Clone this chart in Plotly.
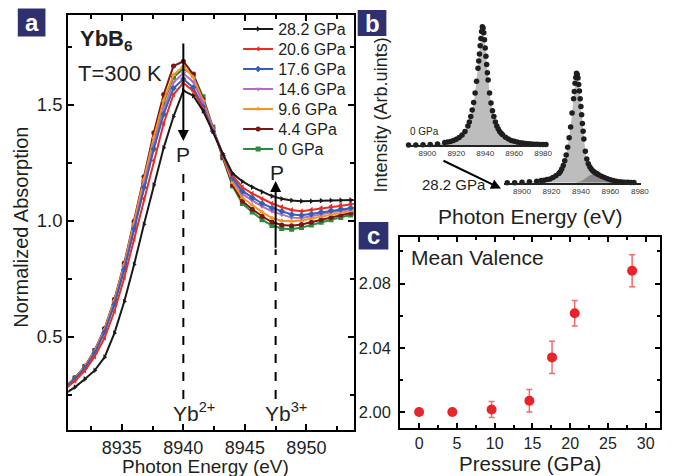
import plotly.graph_objects as go

W, H = 674, 476
FONT = "Liberation Sans, Arial, sans-serif"

# ---------------- Panel a data ----------------
energy = [8930.4, 8931.2, 8932.0, 8932.8, 8933.6, 8934.4, 8935.2, 8936.0, 8936.8, 8937.6,
          8938.4, 8939.2, 8940.0, 8940.8, 8941.6, 8942.4, 8943.2, 8944.0, 8944.8, 8945.6,
          8946.4, 8947.2, 8948.0, 8948.8, 8949.6, 8950.4, 8951.2, 8952.0, 8952.8, 8953.6, 8954.4]
abs_28_2 = [0.255, 0.283, 0.318, 0.355, 0.412, 0.516, 0.652, 0.812, 0.985, 1.155, 1.315, 1.450, 1.562,
            1.540, 1.475, 1.385, 1.290, 1.205, 1.170, 1.146, 1.125, 1.107, 1.095, 1.088, 1.085, 1.085,
            1.087, 1.088, 1.089, 1.090, 1.091]
abs_20_6 = [0.275, 0.310, 0.354, 0.415, 0.495, 0.610, 0.755, 0.920, 1.095, 1.260, 1.420, 1.545, 1.595,
            1.560, 1.485, 1.385, 1.285, 1.195, 1.145, 1.118, 1.095, 1.075, 1.060, 1.047, 1.042, 1.048,
            1.056, 1.063, 1.069, 1.074, 1.077]
abs_17_6 = [0.280, 0.318, 0.365, 0.430, 0.520, 0.640, 0.790, 0.965, 1.145, 1.310, 1.460, 1.572, 1.612,
            1.575, 1.492, 1.388, 1.282, 1.185, 1.128, 1.100, 1.075, 1.056, 1.041, 1.028, 1.024, 1.030,
            1.038, 1.045, 1.051, 1.057, 1.061]
abs_14_6 = [0.282, 0.320, 0.368, 0.435, 0.525, 0.648, 0.800, 0.975, 1.160, 1.330, 1.480, 1.598, 1.636,
            1.600, 1.510, 1.398, 1.285, 1.178, 1.115, 1.088, 1.062, 1.041, 1.026, 1.014, 1.012, 1.019,
            1.028, 1.037, 1.045, 1.052, 1.057]
abs_9_6 = [0.283, 0.322, 0.372, 0.440, 0.532, 0.658, 0.812, 0.990, 1.180, 1.360, 1.520, 1.630, 1.666,
           1.620, 1.520, 1.400, 1.280, 1.165, 1.100, 1.068, 1.038, 1.012, 1.001, 0.998, 1.002, 1.010,
           1.019, 1.028, 1.036, 1.043, 1.048]
abs_4_4 = [0.284, 0.323, 0.373, 0.442, 0.536, 0.662, 0.818, 0.998, 1.190, 1.380, 1.545, 1.668, 1.688,
           1.632, 1.525, 1.400, 1.275, 1.155, 1.085, 1.050, 1.020, 0.995, 0.982, 0.979, 0.984, 0.994,
           1.005, 1.015, 1.025, 1.034, 1.040]
abs_0 = [0.284, 0.322, 0.372, 0.440, 0.532, 0.656, 0.810, 0.985, 1.170, 1.350, 1.510, 1.620, 1.656,
         1.632, 1.535, 1.405, 1.272, 1.150, 1.075, 1.038, 1.005, 0.980, 0.967, 0.964, 0.971, 0.982,
         0.994, 1.005, 1.015, 1.025, 1.032]

series_names = ["28.2 GPa", "20.6 GPa", "17.6 GPa", "14.6 GPa", "9.6 GPa", "4.4 GPa", "0 GPa"]
series_vals = [abs_28_2, abs_20_6, abs_17_6, abs_14_6, abs_9_6, abs_4_4, abs_0]
series_colors = ["#1a1a1a", "#ee2a24", "#2f62b4", "#b56cc6", "#f7941d", "#7a1616", "#2d8a3c"]
series_symbols = ["triangle-right", "triangle-left", "diamond", "triangle-down", "triangle-up", "circle", "square"]

x_ticks_a = [8935, 8940, 8945, 8950]
y_ticks_a = [0.5, 1.0, 1.5]

# ---------------- Panel b data ----------------
e_0gpa = [8887, 8892, 8897, 8902, 8907, 8912, 8914, 8916, 8918, 8920, 8922, 8924, 8926, 8928, 8929,
          8930, 8931, 8932, 8933, 8934, 8935, 8935.5, 8936, 8936.5, 8937, 8937.5, 8938, 8938.5, 8939,
          8939.5, 8940, 8940.5, 8941, 8941.5, 8942, 8943, 8944, 8945, 8946, 8947, 8948, 8949, 8950,
          8951, 8952, 8954, 8956, 8958, 8960, 8962, 8964, 8966, 8968, 8970, 8972, 8974, 8976, 8978,
          8980, 8982]
i_0gpa = [0.0, 0.0, 0.002, 0.005, 0.008, 0.022, 0.026, 0.03, 0.038, 0.048, 0.063, 0.085, 0.115, 0.16,
          0.195, 0.24, 0.295, 0.36, 0.44, 0.54, 0.65, 0.71, 0.77, 0.84, 0.9, 0.96, 1.0, 0.99, 0.95,
          0.89, 0.82, 0.75, 0.68, 0.61, 0.55, 0.44, 0.355, 0.29, 0.24, 0.195, 0.16, 0.135, 0.115, 0.1,
          0.086, 0.066, 0.051, 0.039, 0.031, 0.025, 0.02, 0.016, 0.013, 0.011, 0.009, 0.007, 0.006,
          0.005, 0.004, 0.004]

e_28gpa = [8890, 8895, 8900, 8905, 8910, 8913, 8915, 8917, 8919, 8921, 8923, 8925, 8926, 8927, 8928,
           8929, 8930, 8931, 8932, 8933, 8934, 8935, 8935.5, 8936, 8936.5, 8937, 8937.5, 8938, 8938.5,
           8939, 8939.5, 8940, 8940.5, 8941, 8941.5, 8942, 8943, 8944, 8945, 8946, 8947, 8948, 8949,
           8950, 8951, 8952, 8954, 8956, 8958, 8960, 8962, 8964, 8966, 8968, 8970, 8972, 8974, 8976]
i_28gpa = [0.0, 0.0, 0.004, 0.008, 0.013, 0.018, 0.021, 0.026, 0.032, 0.043, 0.058, 0.078, 0.093, 0.115,
           0.145, 0.185, 0.235, 0.3, 0.38, 0.47, 0.59, 0.71, 0.77, 0.84, 0.89, 0.925, 0.915, 0.885,
           0.83, 0.775, 0.71, 0.645, 0.575, 0.5, 0.435, 0.37, 0.265, 0.2, 0.16, 0.135, 0.115, 0.1,
           0.09, 0.082, 0.075, 0.068, 0.055, 0.043, 0.033, 0.025, 0.018, 0.013, 0.009, 0.006, 0.004,
           0.003, 0.002, 0.001]
e_shoulder = [8936, 8938, 8940, 8942, 8944, 8946, 8948, 8950, 8952, 8954, 8956, 8958, 8960, 8962,
              8964, 8966, 8968]
i_shoulder = [0.0, 0.004, 0.012, 0.027, 0.046, 0.062, 0.072, 0.074, 0.068, 0.055, 0.041, 0.029, 0.019,
              0.011, 0.006, 0.002, 0.0]
inset_ticks = [8900, 8920, 8940, 8960, 8980]

# ---------------- Panel c data ----------------
pressure = [0, 4.4, 9.6, 14.6, 17.6, 20.6, 28.2]
valence = [2.000, 2.000, 2.0015, 2.007, 2.034, 2.0615, 2.088]
valence_err = [0.0, 0.0, 0.005, 0.007, 0.010, 0.008, 0.010]


def fx(px):
    return px / W


def fy(py):
    return 1 - py / H


fig = go.Figure()

# Panel a traces (drawn bottom-up); each entry gets its own one-row legend box
legend_layouts = {}
order = list(zip(series_names, series_vals, series_colors, series_symbols))
for i in reversed(range(len(order))):
    name, vals, col, sym = order[i]
    lg = "legend" if i == 0 else f"legend{i + 1}"
    fig.add_trace(go.Scatter(
        x=energy, y=vals, name=name, mode="lines+markers",
        line=dict(color=col, width=2),
        marker=dict(symbol=sym, size=5, color=col),
        xaxis="x", yaxis="y", showlegend=True, legend=lg))
    legend_layouts[lg] = dict(x=fx(241), y=fy(12 + 20 * i), xanchor="left", yanchor="top",
                              bgcolor="rgba(0,0,0,0)", borderwidth=0,
                              font=dict(family=FONT, size=16, color="#231f20"))

# Panel b traces
fig.add_trace(go.Scatter(x=e_0gpa, y=i_0gpa, mode="lines", fill="tozeroy",
                         fillcolor="#bdbdbd", line=dict(width=0, color="#bdbdbd"),
                         xaxis="x3", yaxis="y3", showlegend=False))
fig.add_trace(go.Scatter(x=e_0gpa, y=i_0gpa, mode="markers",
                         marker=dict(size=5.5, color="#1e1e1e"), cliponaxis=False,
                         xaxis="x3", yaxis="y3", showlegend=False))
fig.add_trace(go.Scatter(x=e_28gpa, y=i_28gpa, mode="lines", fill="tozeroy",
                         fillcolor="#bdbdbd", line=dict(width=0, color="#bdbdbd"),
                         xaxis="x4", yaxis="y4", showlegend=False))
fig.add_trace(go.Scatter(x=e_shoulder, y=i_shoulder, mode="lines", fill="tozeroy",
                         fillcolor="#8a8a8a", line=dict(width=0, color="#8a8a8a"),
                         xaxis="x4", yaxis="y4", showlegend=False))
fig.add_trace(go.Scatter(x=e_28gpa, y=i_28gpa, mode="markers",
                         marker=dict(size=5.5, color="#1e1e1e"), cliponaxis=False,
                         xaxis="x4", yaxis="y4", showlegend=False))

# Panel c trace
fig.add_trace(go.Scatter(x=pressure, y=valence, mode="markers",
                         marker=dict(size=10, color="#e8232a"),
                         error_y=dict(type="data", array=valence_err, color="#f26b6b",
                                      thickness=1.5, width=3),
                         cliponaxis=False, xaxis="x5", yaxis="y5", showlegend=False))

tickfont = dict(family=FONT, size=18, color="#231f20")
tickfont_c = dict(family=FONT, size=16, color="#231f20")
frame = dict(showline=True, linecolor="black", linewidth=2, mirror="ticks",
             ticks="inside", tickcolor="black", showgrid=False, zeroline=False)

fig.update_layout(
    width=W, height=H, margin=dict(l=0, r=0, t=0, b=0), autosize=False,
    paper_bgcolor="white", plot_bgcolor="rgba(0,0,0,0)",
    font=dict(family=FONT, color="#231f20"),
    showlegend=True,
    xaxis=dict(domain=[fx(69), fx(358)], range=[8930.64, 8953.85], anchor="y",
               tickvals=x_ticks_a, tickfont=tickfont, ticklen=6, tickwidth=1.5,
               ticklabelstandoff=0,
               minor=dict(dtick=2.5, tick0=8935, ticks="inside", ticklen=4, tickwidth=1.5,
                          tickcolor="black"), **frame),
    yaxis=dict(domain=[fy(430), fy(15)], range=[0.098, 1.888], anchor="x",
               tickvals=y_ticks_a, tickformat=".1f", tickfont=dict(family=FONT, size=18.5, color="#231f20"),
               ticklen=6, tickwidth=1.5,
               minor=dict(dtick=0.25, tick0=0, ticks="inside", ticklen=4, tickwidth=1.5,
                          tickcolor="black"), **frame),
    xaxis2=dict(domain=[fx(404), fx(668)], range=[0, 264], anchor="y2",
                tick0=19, dtick=18.2, ticklen=4, tickwidth=1.2, showticklabels=False, **frame),
    yaxis2=dict(domain=[fy(207), fy(15)], range=[0, 192], anchor="x2",
                tick0=22, dtick=19, ticklen=4, tickwidth=1.2, showticklabels=False, **frame),
    xaxis3=dict(domain=[fx(412), fx(554)], range=[8886, 8983], anchor="y3",
                showline=True, linecolor="#222", linewidth=1.5, ticks="", showgrid=False,
                zeroline=False, tickvals=inset_ticks,
                tickfont=dict(family=FONT, size=8, color="#333")),
    yaxis3=dict(domain=[fy(145), fy(20)], range=[0, 1.057], anchor="x3", visible=False),
    xaxis4=dict(domain=[fx(510.4), fx(649)], range=[8888, 8981], anchor="y4",
                showline=True, linecolor="#222", linewidth=1.5, ticks="", showgrid=False,
                zeroline=False, tickvals=inset_ticks,
                tickfont=dict(family=FONT, size=8, color="#333")),
    yaxis4=dict(domain=[fy(182.7), fy(60)], range=[0, 1.037], anchor="x4", visible=False),
    xaxis5=dict(domain=[fx(405), fx(668)], range=[-2.5, 31.9], anchor="y5",
                dtick=5, tick0=0, tickfont=tickfont_c,
                ticklen=5, tickwidth=1.5,
                minor=dict(dtick=2.5, tick0=0, ticks="inside", ticklen=3, tickwidth=1.5,
                           tickcolor="black"), **frame),
    yaxis5=dict(domain=[fy(428), fy(237)], range=[1.990, 2.109], anchor="x5",
                dtick=0.04, tick0=2.0, tickformat=".2f",
                tickfont=dict(family=FONT, size=16.5, color="#231f20"),
                ticklen=5, tickwidth=1.5, ticklabelstandoff=4,
                minor=dict(dtick=0.02, tick0=2.0, ticks="inside", ticklen=3, tickwidth=1.5,
                           tickcolor="black"), **frame),
    **legend_layouts,
)

navy = "#2e3070"
shapes = []
for (x0, y0, x1, y1) in [(18, 8.5, 46, 36.5), (362, 10, 391, 36), (363, 222, 393, 249.5)]:
    shapes.append(dict(type="rect", xref="paper", yref="paper", x0=fx(x0), x1=fx(x1),
                       y0=fy(y1), y1=fy(y0), fillcolor=navy, line=dict(width=0), layer="above"))
# dashed guide lines in panel a
shapes.append(dict(type="line", xref="x", yref="y", x0=8940, x1=8940, y0=0.232, y1=1.222,
                   line=dict(color="black", width=2, dash="dash")))
shapes.append(dict(type="line", xref="x", yref="y", x0=8947.5, x1=8947.5, y0=0.232, y1=0.878,
                   line=dict(color="black", width=2, dash="dash")))
fig.update_layout(shapes=shapes)

ann = []


def text(px, py, s, size, xanchor="center", yanchor="middle", color="#231f20", angle=0):
    ann.append(dict(xref="paper", yref="paper", x=fx(px), y=fy(py), text=s, showarrow=False,
                    xanchor=xanchor, yanchor=yanchor, textangle=angle,
                    font=dict(family=FONT, size=size, color=color)))


# panel letters
text(32, 22.5, "<b>a</b>", 24, color="white")
text(376.5, 23, "<b>b</b>", 24, color="white")
text(378, 235.5, "<b>c</b>", 24, color="white")

# panel a texts
text(79, 40, "<b>YbB<sub>6</sub></b>", 22, xanchor="left")
text(77, 73, "T=300 K", 22, xanchor="left")
text(185.7, 155, "P", 21)
text(280, 172, "P", 21)
text(196, 412, "Yb<sup>2+</sup>", 21)
text(289, 412, "Yb<sup>3+</sup>", 21)
text(208, 466, "Photon Energy (eV)", 19)
text(21, 227, "Normalized Absorption", 20, angle=-90)

# panel b texts
text(386, 115, "Intensity (Arb.uints)", 18, angle=-90)
text(536.5, 217, "Photon Energy (eV)", 21)
text(413, 131, "0 GPa", 10, xanchor="left")
text(459, 185, "28.2 GPa", 15)

# panel c texts
text(414, 257, "Mean Valence", 21, xanchor="left")
text(536.5, 463.5, "Pressure (GPa)", 20.5)

# arrows panel a
ann.append(dict(xref="x", yref="y", axref="x", ayref="y", x=8940, y=1.345, ax=8940, ay=1.772,
                text="", showarrow=True, arrowhead=2, arrowsize=1.1, arrowwidth=2,
                arrowcolor="black", standoff=0, startstandoff=0))
ann.append(dict(xref="x", yref="y", axref="x", ayref="y", x=8947.5, y=1.172, ax=8947.5, ay=0.878,
                text="", showarrow=True, arrowhead=2, arrowsize=1.1, arrowwidth=2,
                arrowcolor="black", standoff=0, startstandoff=0))
# arrow panel b
ann.append(dict(xref="paper", yref="paper", x=fx(507), y=fy(188.5), ax=448 - 507, ay=160 - 188.5,
                axref="pixel", ayref="pixel", text="", showarrow=True, arrowhead=2,
                arrowsize=1, arrowwidth=2, arrowcolor="black", standoff=0))

fig.update_layout(annotations=ann)

fig.write_html("out.html", config={"displayModeBar": False},
               post_script="document.body.style.margin='0';document.body.style.padding='0';"
                           "document.body.style.overflow='hidden';")
